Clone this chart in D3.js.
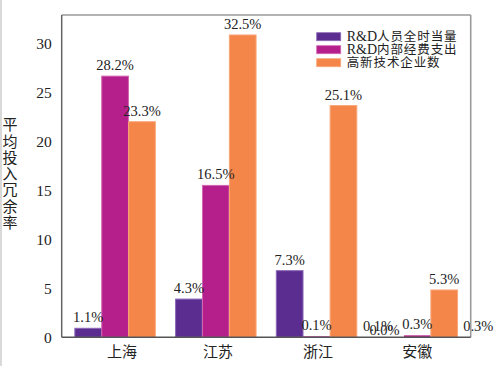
<!DOCTYPE html>
<html><head><meta charset="utf-8">
<script src="https://cdn.jsdelivr.net/npm/d3@7"></script>
<style>body{margin:0;background:#fff}svg{display:block}</style>
</head><body>
<svg id="c" width="500" height="366"></svg>
<script>
const categories = ["上海", "江苏", "浙江", "安徽"];
const seriesNames = ["R&D人员全时当量", "R&D内部经费支出", "高新技术企业数"];
const staffValues = [0.92, 3.9, 6.8, 0];
const fundValues = [26.65, 15.5, 0.1, 0.2];
const firmValues = [22.0, 30.85, 23.65, 4.83];
const staffLabels = ["1.1%", "4.3%", "7.3%", null];
const fundLabels = ["28.2%", "16.5%", "0.1%", "0.3%"];
const firmLabels = ["23.3%", "32.5%", "25.1%", "5.3%"];
// stray labels of the original chart: [text, category position, series value basis]
const extraLabels = [["0.1%", 2.61, 0], ["0.0%", 2.675, -0.4], ["0.3%", 3.606, 0]];
const yTicks = [0, 5, 10, 15, 20, 25, 30];
const yTitle = "平均投入冗余率";

const colors = ["#5c2d91", "#b51f8c", "#f5864a"];
const strokes = ["#8a68b6", "#d266b0", "#f9a77a"];
const serif = "'Liberation Serif','Noto Sans CJK SC',serif";
const sans = "'Noto Sans CJK SC',sans-serif";
const svg = d3.select("#c");
const L = 61.7, R = 470.7, T = 15, B = 337.3;

svg.append("rect").attr("x", 0).attr("y", 0).attr("width", 2).attr("height", 366).attr("fill", "#d9d9d9");

const x = d3.scaleLinear().domain([-0.53, 3.53]).range([L, R]);
const y = d3.scaleLinear().domain([0, (B - T) / 9.8]).range([B, T]);
const bw = 0.265, slot = 0.267;

const series = [staffValues, fundValues, firmValues];
const labels = [staffLabels, fundLabels, firmLabels];

series.forEach((vals, s) => {
  svg.append("g").selectAll("rect").data(vals).join("rect")
    .attr("x", (d, i) => x(i + (s - 1) * slot - bw / 2))
    .attr("width", x(bw) - x(0))
    .attr("y", d => y(d))
    .attr("height", d => y(0) - y(d))
    .attr("fill", colors[s])
    .attr("stroke", strokes[s]).attr("stroke-width", d => d > 0.5 ? 1 : 0);
});

// value labels
series.forEach((vals, s) => {
  svg.append("g").selectAll("text").data(vals.map((v, i) => ({v, i, t: labels[s][i]})).filter(d => d.t))
    .join("text")
    .attr("x", d => x(d.i + (s - 1) * slot))
    .attr("y", d => y(d.v) - 6)
    .attr("text-anchor", "middle")
    .attr("font-family", serif).attr("font-size", 14.5).attr("fill", "#222")
    .text(d => d.t);
});
svg.append("g").selectAll("text").data(extraLabels).join("text")
  .attr("x", d => x(d[1]))
  .attr("y", d => y(d[2]) - 6)
  .attr("text-anchor", "middle")
  .attr("font-family", serif).attr("font-size", 14.5).attr("fill", "#222")
  .text(d => d[0]);

// frame
svg.append("line").attr("x1", L).attr("x2", R).attr("y1", T).attr("y2", T).attr("stroke", "#9a9a9a").attr("stroke-width", 1.6);
svg.append("line").attr("x1", R).attr("x2", R).attr("y1", T).attr("y2", B).attr("stroke", "#9a9a9a").attr("stroke-width", 1.6);
svg.append("line").attr("x1", L).attr("x2", L).attr("y1", T).attr("y2", B).attr("stroke", "#666").attr("stroke-width", 1.5);
svg.append("line").attr("x1", L).attr("x2", R).attr("y1", B).attr("y2", B).attr("stroke", "#555").attr("stroke-width", 1.5);

// y axis
const yAxis = d3.axisLeft(y).tickValues(yTicks).tickSize(0).tickPadding(10);
const ya = svg.append("g").attr("transform", `translate(${L},0)`).call(yAxis);
ya.select(".domain").remove();
ya.selectAll("text").attr("font-family", serif).attr("font-size", 15.5).attr("fill", "#222");

// x axis labels
const tickShift = [6.5, 1.7, 0.9, -0.6];
const xAxis = d3.axisBottom(x).tickValues(d3.range(categories.length)).tickFormat(i => categories[i]).tickSize(0).tickPadding(9);
const xa = svg.append("g").attr("transform", `translate(0,${B})`).call(xAxis);
xa.select(".domain").remove();
xa.selectAll(".tick text").attr("dx", (d, i) => tickShift[i])
  .attr("font-family", sans).attr("font-size", 15).attr("fill", "#222");

// y title, vertical stacked characters
svg.append("g").selectAll("text").data(Array.from(yTitle)).join("text")
  .attr("x", 10).attr("y", (d, i) => 125 + i * 16.3)
  .attr("dy", "0.35em").attr("text-anchor", "middle")
  .attr("font-family", sans).attr("font-size", 15).attr("fill", "#222")
  .text(d => d);

// legend
const lg = svg.append("g").attr("transform", "translate(316.7,36.7)");
seriesNames.forEach((n, i) => {
  const g = lg.append("g").attr("transform", `translate(0,${i * 13})`);
  g.append("rect").attr("x", 0).attr("y", -4).attr("width", 24).attr("height", 8).attr("fill", colors[i]).attr("stroke", strokes[i]).attr("stroke-width", 0.8);
  const t = g.append("text").attr("x", 30).attr("y", 0).attr("dy", "0.36em")
    .attr("font-size", 12.5).attr("fill", "#222");
  const m = n.match(/^([A-Za-z&]*)(.*)$/);
  if (m[1]) t.append("tspan").attr("font-family", serif).attr("font-size", 14).text(m[1]);
  t.append("tspan").attr("font-family", sans).attr("letter-spacing", 0.9).text(m[2]);
});
</script>
</body></html>
